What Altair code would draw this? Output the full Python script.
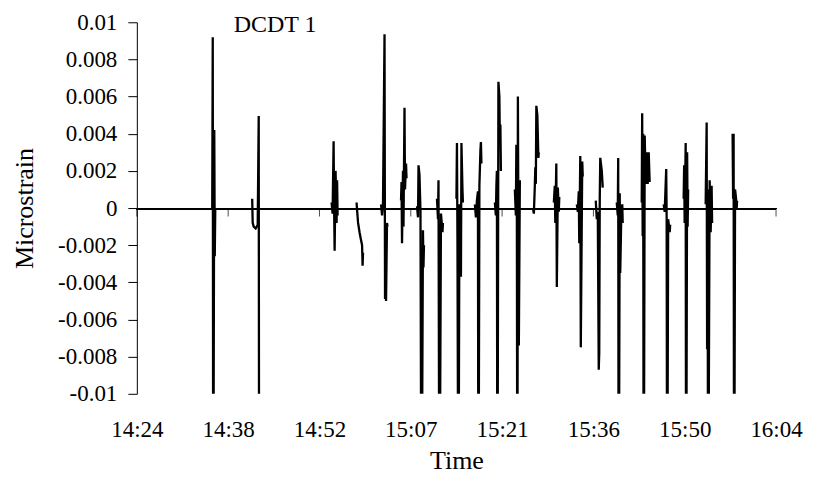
import json
import altair as alt
import pandas as pd

# ---- data: time (minutes after midnight) and strain ----
time_min = [
    875.89, 875.97, 876.05, 876.21, 876.29, 876.37,
    882.19, 882.27, 882.43, 882.74, 883.06, 883.22, 883.29,
    894.71, 894.87, 895.03, 895.11, 895.19, 895.34, 895.50, 895.58, 895.66,
    898.65, 898.73, 898.89, 899.12, 899.28, 899.52, 899.60, 899.67,
    902.51, 902.67, 902.82, 903.06, 903.14, 903.22, 903.30, 903.45, 903.53,
    905.66, 905.74, 905.82, 905.97, 906.05, 906.21, 906.29, 906.45, 906.53,
    908.18, 908.34, 908.42, 908.57, 908.73, 908.89, 909.12, 909.20, 909.28,
    911.33, 911.49, 911.57, 911.72, 911.96, 912.20, 912.27,
    914.40, 914.48, 914.56, 914.71, 914.87, 915.11, 915.19, 915.35, 915.42,
    917.31, 917.47, 917.63, 917.79, 917.87, 918.02, 918.18, 918.26, 918.34,
    920.46, 920.62, 920.70, 920.78, 920.86, 921.02, 921.17, 921.25, 921.33, 921.41,
    923.61, 923.77, 923.85, 923.93, 924.01, 924.09, 924.24, 924.40,
    926.45, 926.61, 926.76, 926.84, 926.92, 927.00, 927.16, 927.32, 927.39,
    929.76, 929.91, 929.99, 930.15, 930.23, 930.39, 930.54, 930.62,
    933.38, 933.54, 933.69, 933.77, 933.85, 933.93, 934.01, 934.24, 934.32,
    936.37, 936.53, 936.69, 936.84, 936.92, 937.00, 937.08, 937.32, 937.47,
    939.68, 939.84, 939.91, 939.99, 940.15, 940.23, 940.39, 940.55, 940.62,
    943.62, 943.69, 943.77, 943.85, 943.93, 944.09, 944.24, 944.40, 944.56, 944.72, 944.87,
    947.08, 947.24, 947.48, 947.55, 947.63, 947.79, 948.03, 948.11,
    950.23, 950.31, 950.39, 950.55, 950.62, 950.78, 950.86, 950.94,
    953.70, 953.86, 953.93, 954.01, 954.09, 954.33, 954.49, 954.64, 954.72,
    957.95, 958.03, 958.11, 958.19, 958.34, 958.50, 958.58, 958.66,
]
strain = [
    0.0, 0.0092, -0.02, 0.0042, -0.0026, 0.0,
    0.0005, -0.0008, -0.0010, -0.0011, -0.0009, 0.00495, -0.02,
    0.0003, -0.0003, 0.0036, 0.0, -0.0023, 0.0020, -0.0008, 0.0015, -0.0004,
    0.0003, -0.0001, -0.0008, -0.0013, -0.0016, -0.0020, -0.0031, -0.0024,
    0.0002, -0.0004, 0.0003, 0.00935, -0.0049, -0.0012, -0.0050, -0.0008, -0.0010,
    0.0004, 0.0014, -0.0019, 0.0020, -0.0010, 0.0054, 0.0010, 0.0024, 0.0016,
    0.0001, -0.0005, 0.0023, 0.0018, -0.0002, -0.02, -0.0012, -0.0032, -0.0020,
    0.0005, -0.0006, 0.0015, -0.02, -0.0003, -0.0013, -0.0008,
    0.0005, 0.0035, -0.0016, -0.02, 0.0002, -0.0037, 0.0035, 0.0010, 0.0003,
    0.0002, -0.0005, 0.0004, 0.0009, -0.02, 0.0012, 0.0031, 0.00355, 0.0024,
    0.0003, -0.0004, 0.0012, 0.0020, -0.02, 0.0068, 0.0060, 0.0035, 0.0045, 0.0020,
    0.0010, -0.0004, 0.0034, -0.0006, -0.02, 0.0060, -0.0074, 0.0015,
    0.0, -0.0003, 0.0012, 0.0022, 0.0013, 0.0055, 0.0050, 0.0027, 0.0030,
    0.0003, 0.0012, -0.0008, 0.0024, -0.00425, 0.0011, -0.0002, 0.0006,
    0.0002, -0.0002, 0.0009, -0.0019, 0.0003, 0.0028, -0.0075, 0.0025, 0.0017,
    0.0004, -0.0006, -0.0002, -0.0087, -0.0078, 0.0005, 0.0027, 0.0020, 0.0011,
    0.0003, -0.0004, 0.0027, -0.02, 0.0008, -0.0035, -0.0005, 0.0002, -0.0008,
    0.0003, 0.0051, -0.0015, 0.0040, -0.02, 0.0039, 0.0013, 0.0030, 0.0013, 0.0030, 0.0014,
    0.0002, -0.0002, 0.0021, -0.0005, -0.02, -0.0006, -0.0013, -0.0009,
    0.0005, 0.0023, -0.0008, 0.0035, -0.02, 0.0030, -0.0010, 0.0010,
    0.0002, 0.0046, -0.0076, 0.0010, -0.02, 0.0015, -0.0013, 0.0012, -0.0008,
    0.0040, 0.0005, 0.0040, -0.02, 0.0010, 0.0005, -0.0001, 0.0004,
]

x_tick_values = [864.0, 878.4, 892.8, 907.2, 921.6, 936.0, 950.4, 964.8]
x_tick_labels = ["14:24", "14:38", "14:52", "15:07", "15:21", "15:36", "15:50", "16:04"]
y_tick_values = [0.01, 0.008, 0.006, 0.004, 0.002, 0.0, -0.002, -0.004, -0.006, -0.008, -0.01]
y_tick_labels = ["0.01", "0.008", "0.006", "0.004", "0.002", "0", "-0.002", "-0.004",
                 "-0.006", "-0.008", "-0.01"]

annotation_text = ["DCDT 1"]
annotation_time = [885.8]
annotation_strain = [0.0095]

# ---- split the record into separate bursts (gaps of more than a minute) ----
burst = []
b = 0
for i, t in enumerate(time_min):
    if i > 0 and t - time_min[i - 1] > 1.0:
        b += 1
    burst.append(b)

df = pd.DataFrame({"t": time_min, "v": strain, "burst": burst})
ticks_df = pd.DataFrame({"t": x_tick_values})
ann_df = pd.DataFrame({"t": annotation_time, "v": annotation_strain, "label": annotation_text})

FONT = "Liberation Serif"

x_scale = alt.Scale(domain=[x_tick_values[0], x_tick_values[-1]], nice=False, zero=False)
y_scale = alt.Scale(domain=[min(y_tick_values), max(y_tick_values)], nice=False, zero=False)

x_label_expr = f"{json.dumps(x_tick_labels)}[indexof({json.dumps(x_tick_values)}, datum.value)]"
y_label_expr = f"{json.dumps(y_tick_labels)}[indexof({json.dumps(y_tick_values)}, datum.value)]"

x_axis = alt.Axis(
    values=x_tick_values, tickCount=len(x_tick_values), labelExpr=x_label_expr,
    domain=False, ticks=False, tickSize=0,
    grid=False, labelPadding=43, labelBaseline="alphabetic", labelFlush=False,
    labelOverlap=False, labelFont=FONT, labelFontSize=23, labelColor="black",
    title="Time", titleFont=FONT, titleFontSize=26, titleFontWeight="normal",
    titleColor="black", titleBaseline="alphabetic", titleY=75,
)
y_axis = alt.Axis(
    values=y_tick_values, tickCount=len(y_tick_values), labelExpr=y_label_expr,
    domain=True, domainColor="black",
    domainWidth=1, ticks=True, tickSize=9, tickColor="black", tickWidth=1, grid=False,
    labelPadding=11, labelFlush=False, labelOverlap=False, labelFont=FONT,
    labelFontSize=23, labelColor="black", labelBaseline="middle",
    title="Microstrain", titleFont=FONT, titleFontSize=26, titleFontWeight="normal",
    titleColor="black", titleAngle=270, titleX=-112, titleY=186,
    titleAlign="center", titleBaseline="middle",
)

line = alt.Chart(df).mark_line(color="black", strokeWidth=2.3, clip=True).encode(
    x=alt.X("t:Q", scale=x_scale, axis=x_axis),
    y=alt.Y("v:Q", scale=y_scale, axis=y_axis),
    detail="burst:N",
)

zero_line = alt.Chart(df).mark_rule(color="black", strokeWidth=1, yOffset=0.5).encode(
    y=alt.datum(0)
)

x_ticks = alt.Chart(ticks_df).mark_tick(
    color="black", thickness=1, size=8, yOffset=4.5, orient="vertical"
).encode(x=alt.X("t:Q"), y=alt.datum(0))

annotation = alt.Chart(ann_df).mark_text(
    font=FONT, fontSize=24, color="black", align="center", baseline="alphabetic"
).encode(x="t:Q", y="v:Q", text="label:N")

chart = alt.layer(line, zero_line, x_ticks, annotation).properties(
    width=640,
    height=372,
    autosize=alt.AutoSizeParams(type="none"),
    padding={"left": 129, "top": 14, "right": 30, "bottom": 82},
    background="white",
).configure_view(stroke=None)

chart.save("out.html", embed_options={"renderer": "svg", "actions": False})
